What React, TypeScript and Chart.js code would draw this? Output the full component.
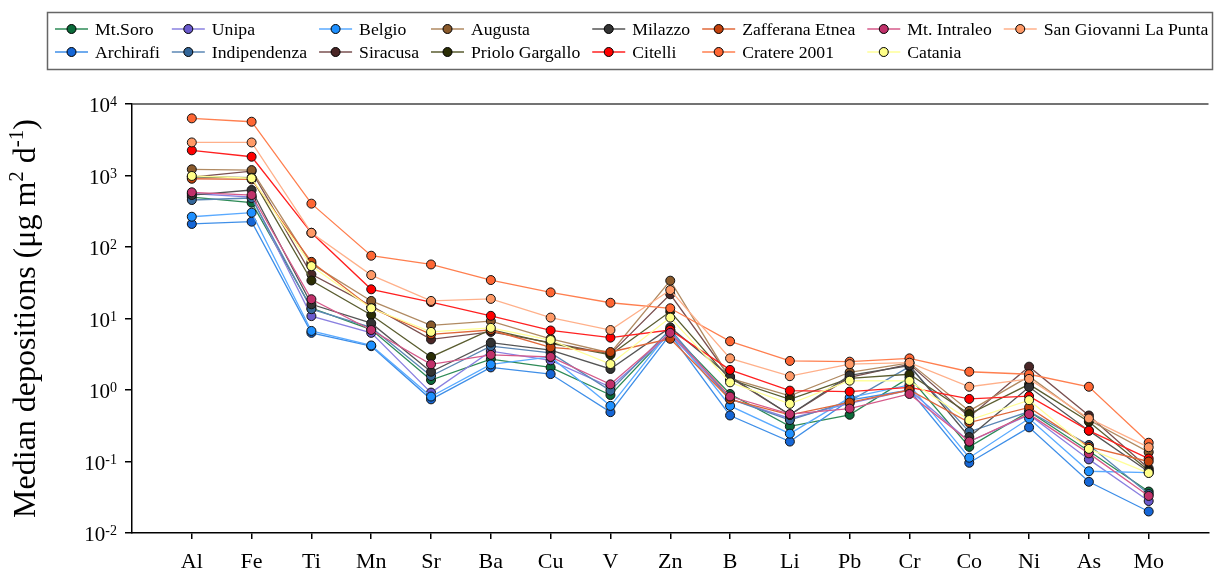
import React, { useEffect, useRef } from "react";
import { Chart, registerables } from "chart.js";

Chart.register(...registerables);

const FONT = "'Liberation Serif', 'Times New Roman', serif";

const elements = ["Al", "Fe", "Ti", "Mn", "Sr", "Ba", "Cu", "V", "Zn", "B", "Li", "Pb", "Cr", "Co", "Ni", "As", "Mo"];
const yTickExponents = [-2, -1, 0, 1, 2, 3, 4];

// values per element: Al, Fe, Ti, Mn, Sr, Ba, Cu, V, Zn, B, Li, Pb, Cr, Co, Ni, As, Mo
const mtSoro = [500, 417, 14, 7.0, 1.38, 2.7, 2.07, 0.85, 6.5, 0.88, 0.31, 0.45, 1.5, 0.16, 0.5, 0.14, 0.038];
const archirafi = [210, 226, 6.3, 4.1, 0.74, 2.07, 1.67, 0.49, 6.0, 0.44, 0.19, 0.72, 1.0, 0.096, 0.3, 0.052, 0.02];
const unipa = [560, 500, 10.8, 6.3, 0.92, 3.5, 2.6, 1.1, 6.0, 0.75, 0.4, 0.65, 1.0, 0.19, 0.45, 0.107, 0.028];
const indipendenza = [454, 484, 13.5, 7.5, 1.57, 4.1, 3.3, 0.98, 7.0, 0.75, 0.38, 0.7, 2.12, 0.26, 0.5, 0.17, 0.035];
const belgio = [265, 302, 6.7, 4.2, 0.81, 2.28, 2.9, 0.6, 6.8, 0.6, 0.245, 0.78, 1.18, 0.113, 0.4, 0.073, 0.07];
const siracusa = [950, 1150, 41.5, 15, 5.1, 6.5, 4.6, 3.2, 21.8, 1.5, 0.45, 1.5, 2.3, 0.42, 2.12, 0.44, 0.08];
const augusta = [1220, 1190, 58, 17.6, 8.0, 9.2, 5.2, 3.3, 33.8, 1.45, 0.83, 1.77, 2.4, 0.51, 1.55, 0.38, 0.135];
const prioloGargallo = [960, 930, 34, 11.2, 2.9, 7.0, 4.5, 3.1, 12.5, 1.4, 0.74, 1.45, 1.66, 0.46, 1.2, 0.36, 0.075];
const milazzo = [533, 627, 15.8, 8.6, 1.8, 4.6, 3.6, 1.97, 7.5, 1.54, 0.45, 1.6, 2.2, 0.22, 1.1, 0.27, 0.072];
const citelli = [2250, 1830, 158, 25.6, 17, 10.9, 6.8, 5.4, 6.9, 1.91, 0.98, 0.95, 1.09, 0.75, 0.82, 0.27, 0.11];
const zafferanaEtnea = [900, 880, 62, 14, 6.0, 6.9, 3.95, 3.4, 5.2, 0.74, 0.45, 0.67, 1.0, 0.35, 0.57, 0.16, 0.1];
const cratere2001 = [6300, 5650, 404, 75.5, 57, 34.5, 23.2, 16.6, 13.9, 4.8, 2.55, 2.49, 2.77, 1.8, 1.66, 1.11, 0.183];
const mtIntraleo = [582, 533, 18.6, 6.9, 2.29, 3.1, 2.9, 1.2, 6.3, 0.81, 0.46, 0.55, 0.88, 0.19, 0.46, 0.13, 0.033];
const catania = [985, 915, 54, 13.9, 6.5, 7.4, 5.0, 2.31, 10.3, 1.28, 0.64, 1.35, 1.34, 0.38, 0.72, 0.15, 0.069];
const sanGiovanni = [2900, 2900, 158, 40.5, 17.6, 18.8, 10.3, 6.9, 25, 2.77, 1.56, 2.3, 2.41, 1.11, 1.43, 0.4, 0.158];

const seriesNames = [
  "Mt.Soro", "Archirafi", "Unipa", "Indipendenza", "Belgio", "Siracusa", "Augusta", "Priolo Gargallo",
  "Milazzo", "Citelli", "Zafferana Etnea", "Cratere 2001", "Mt. Intraleo", "Catania", "San Giovanni La Punta",
];
const seriesValues = [
  mtSoro, archirafi, unipa, indipendenza, belgio, siracusa, augusta, prioloGargallo,
  milazzo, citelli, zafferanaEtnea, cratere2001, mtIntraleo, catania, sanGiovanni,
];
const markerColors = [
  "#0b6b3a", "#1566d6", "#6a5acd", "#336699", "#1e90ff", "#4a2626", "#8b5a2b", "#2b2e05",
  "#333333", "#ff0000", "#c2410c", "#ff6633", "#c0306a", "#ffff88", "#ff9966",
];
const lineColors = [
  "#2e8b57", "#3f8fe8", "#8a80e0", "#5b87b5", "#5aaaff", "#7a5050", "#b08a62", "#5a5d30",
  "#555555", "#ff2020", "#e0683a", "#ff7f4f", "#d65a8a", "#ffff99", "#ffb08a",
];

const axisTextPlugin = {
  id: "axisText",
  afterDraw(chart: any) {
    const ctx = chart.ctx;
    const ys = chart.scales.y;
    const xs = chart.scales.x;
    const area = chart.chartArea;
    ctx.save();
    // top frame line
    ctx.strokeStyle = "#444";
    ctx.lineWidth = 1.5;
    ctx.beginPath();
    ctx.moveTo(area.left, area.top);
    ctx.lineTo(area.right, area.top);
    ctx.stroke();

    ctx.fillStyle = "#000";
    ctx.textAlign = "left";
    ctx.textBaseline = "alphabetic";
    // y tick labels 10^n
    yTickExponents.forEach((e) => {
      const py = ys.getPixelForValue(Math.pow(10, e));
      const expStr = String(e);
      ctx.font = `14px ${FONT}`;
      const ew = ctx.measureText(expStr).width;
      ctx.font = `21px ${FONT}`;
      const bw = ctx.measureText("10").width;
      const right = 117;
      ctx.fillText("10", right - ew - bw, py + 8);
      ctx.font = `14px ${FONT}`;
      ctx.fillText(expStr, right - ew, py + 2);
    });
    // x labels
    ctx.font = `22px ${FONT}`;
    ctx.textAlign = "center";
    elements.forEach((el, i) => {
      const px = xs.getPixelForValue(i + 1);
      ctx.fillText(el, px, 568);
    });
    // y title
    const parts: [string, boolean][] = [
      ["Median depositions (\u03bcg m", false],
      ["2", true],
      [" d", false],
      ["-1", true],
      [")", false],
    ];
    const big = `32px ${FONT}`;
    const small = `21px ${FONT}`;
    let total = 0;
    parts.forEach(([t, sup]) => {
      ctx.font = sup ? small : big;
      total += ctx.measureText(t).width;
    });
    ctx.translate(35, (area.top + area.bottom) / 2);
    ctx.rotate(-Math.PI / 2);
    ctx.textAlign = "left";
    let cx = -total / 2;
    parts.forEach(([t, sup]) => {
      ctx.font = sup ? small : big;
      ctx.fillText(t, cx, sup ? -12 : 0);
      cx += ctx.measureText(t).width;
    });
    ctx.restore();
  },
};

const legendPlugin = {
  id: "customLegend",
  afterDraw(chart: any) {
    const ctx = chart.ctx;
    ctx.save();
    ctx.strokeStyle = "#666";
    ctx.lineWidth = 1.5;
    ctx.strokeRect(47.5, 12.5, 1165, 57);
    ctx.font = `17.7px ${FONT}`;
    ctx.textBaseline = "middle";
    ctx.textAlign = "left";
    const rowsY = [29, 52];
    const nCols = Math.ceil(seriesNames.length / 2);
    let x = 55;
    for (let c = 0; c < nCols; c++) {
      let maxW = 0;
      for (let r = 0; r < 2; r++) {
        const i = c * 2 + r;
        if (i >= seriesNames.length) continue;
        const y = rowsY[r];
        ctx.strokeStyle = lineColors[i];
        ctx.lineWidth = 1.5;
        ctx.beginPath();
        ctx.moveTo(x, y);
        ctx.lineTo(x + 33, y);
        ctx.stroke();
        ctx.beginPath();
        ctx.arc(x + 16.5, y, 4.5, 0, Math.PI * 2);
        ctx.fillStyle = markerColors[i];
        ctx.fill();
        ctx.strokeStyle = "#000";
        ctx.lineWidth = 1;
        ctx.stroke();
        ctx.fillStyle = "#000";
        ctx.fillText(seriesNames[i], x + 40, y + 1);
        maxW = Math.max(maxW, ctx.measureText(seriesNames[i]).width);
      }
      x += 40 + maxW + 12;
    }
    ctx.restore();
  },
};

export default function App() {
  const canvasRef = useRef<HTMLCanvasElement | null>(null);

  useEffect(() => {
    document.body.style.margin = "0";
    const canvas = canvasRef.current;
    if (!canvas) return;
    const n = seriesNames.length;
    const datasets = seriesNames.map((name, si) => ({
      label: name,
      data: seriesValues[si].map((v, i) => ({ x: i + 1, y: v })),
      borderColor: lineColors[si],
      backgroundColor: markerColors[si],
      pointBackgroundColor: markerColors[si],
      pointBorderColor: "#111",
      pointBorderWidth: 1,
      pointRadius: 4.5,
      borderWidth: 1.3,
      tension: 0,
      fill: false,
      order: n - si,
    }));
    const chart = new Chart(canvas, {
      type: "line",
      data: { datasets },
      options: {
        animation: false,
        responsive: false,
        devicePixelRatio: 1,
        layout: { padding: { top: 104, left: 0, right: 0, bottom: 0 } },
        plugins: { legend: { display: false }, tooltip: { enabled: false } },
        scales: {
          x: {
            type: "linear",
            min: 0,
            max: 18,
            afterBuildTicks: (s: any) => {
              s.ticks = elements.map((_, i) => ({ value: i + 1 }));
            },
            afterFit: (s: any) => {
              s.height = 39;
            },
            ticks: { display: false },
            grid: { display: true, drawOnChartArea: false, drawTicks: true, tickLength: 6, color: "#000", lineWidth: 1.5 },
            border: { display: true, color: "#000", width: 1.5 },
          },
          y: {
            type: "logarithmic",
            min: 0.01,
            max: 10000,
            afterBuildTicks: (s: any) => {
              s.ticks = yTickExponents.map((e) => ({ value: Math.pow(10, e) }));
            },
            afterFit: (s: any) => {
              s.width = 132;
            },
            ticks: { display: false },
            grid: { display: true, drawOnChartArea: false, drawTicks: true, tickLength: 7, color: "#000", lineWidth: 1.5 },
            border: { display: true, color: "#000", width: 1.5 },
          },
        },
      } as any,
      plugins: [axisTextPlugin, legendPlugin],
    });
    return () => chart.destroy();
  }, []);

  return (
    <div style={{ width: 1214, height: 572 }}>
      <canvas ref={canvasRef} width={1214} height={572} style={{ display: "block" }} />
    </div>
  );
}
